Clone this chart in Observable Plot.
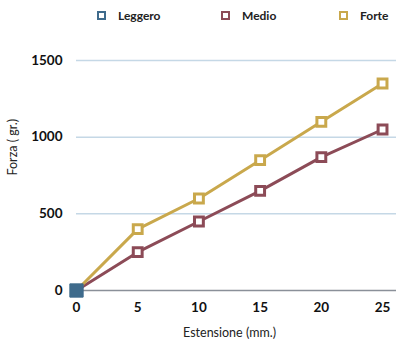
<!DOCTYPE html>
<html><head><meta charset="utf-8">
<script src="https://cdn.jsdelivr.net/npm/d3@7"></script>
<script src="https://cdn.jsdelivr.net/npm/@observablehq/plot@0.6"></script>
<style>
body{margin:0;background:#fff;font-family:Lato,"DejaVu Sans",sans-serif;}
#legend{height:30px;position:relative;font-weight:bold;font-size:12px;color:#222;}
.item{position:absolute;top:8px;display:flex;align-items:center;}
.sw{width:5px;height:5px;border:2.5px solid;margin-right:12px;background:#fff;}
</style></head>
<body>
<div id="legend"></div>
<div id="chart"></div>
<script>
const estensione = [0, 5, 10, 15, 20, 25];
const leggero = [0];
const medio = [0, 250, 450, 650, 870, 1050];
const forte = [0, 400, 600, 850, 1100, 1350];
const yTicks = [0, 500, 1000, 1500];
const series = ["Leggero", "Medio", "Forte"];
const colors = ["#3f6b8c", "#8c4b57", "#c9a84c"];

const legendPos = [97, 221, 339];
const lg = document.getElementById("legend");
series.forEach((s, i) => {
  const d = document.createElement("div");
  d.className = "item";
  d.style.left = legendPos[i] + "px";
  d.innerHTML = `<span class="sw" style="border-color:${colors[i]}"></span><span>${s}</span>`;
  lg.appendChild(d);
});

const medioData = estensione.map((x, i) => ({x, y: medio[i]}));
const forteData = estensione.map((x, i) => ({x, y: forte[i]}));
const leggeroData = leggero.map((y, i) => ({x: estensione[i], y}));

const chart = Plot.plot({
  width: 396, height: 311,
  marginLeft: 76, marginRight: 0, marginTop: 30, marginBottom: 51,
  style: {fontFamily: "Lato, 'DejaVu Sans', sans-serif", background: "#fff"},
  x: {domain: [0, 26.14]},
  y: {domain: [0, 1500]},
  marks: [
    Plot.ruleY(yTicks.filter(d => d > 0), {stroke: "#c5d8e6", strokeWidth: 1.5}),
    Plot.ruleY([0], {stroke: "#8a9099", strokeWidth: 1.5}),
    Plot.axisY(yTicks, {tickSize: 0, tickPadding: 14, fontSize: 13.5, fontWeight: "bold", fill: "#111",
      tickFormat: d => String(d), label: null}),
    Plot.axisX(estensione, {tickSize: 0, tickPadding: 12, fontSize: 13.5, fontWeight: "bold", fill: "#111",
      tickFormat: d => String(d), label: null}),
    Plot.text(["Forza ( gr.)"], {frameAnchor: "left", dx: -64, rotate: -90, fontSize: 12.5, fill: "#222"}),
    Plot.text(["Estensione (mm.)"], {x: 12.5, frameAnchor: "bottom", dy: 46, fontSize: 12.5, fill: "#222"}),
    Plot.line(medioData, {x: "x", y: "y", stroke: colors[1], strokeWidth: 3}),
    Plot.line(forteData, {x: "x", y: "y", stroke: colors[2], strokeWidth: 3}),
    Plot.dot(medioData.slice(1), {x: "x", y: "y", symbol: "square", r: 5, fill: "#fff", stroke: colors[1], strokeWidth: 3}),
    Plot.dot(forteData.slice(1), {x: "x", y: "y", symbol: "square", r: 5, fill: "#fff", stroke: colors[2], strokeWidth: 3}),
    Plot.dot(leggeroData, {x: "x", y: "y", symbol: "square", r: 7.5, fill: colors[0], stroke: colors[0], strokeWidth: 1})
  ]
});
document.getElementById("chart").appendChild(chart);
</script>
</body></html>
